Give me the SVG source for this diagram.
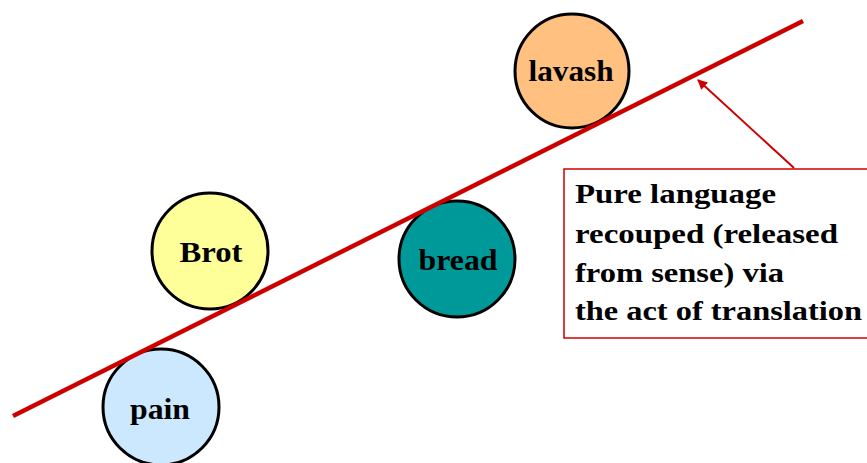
<svg xmlns="http://www.w3.org/2000/svg" width="867" height="463" viewBox="0 0 867 463">
<defs>
<style>
.node circle{stroke:#000;stroke-width:3}
.lbl{font-family:'Liberation Serif',serif;font-weight:700;font-size:29px;fill:#000;text-anchor:middle}
.note{font-family:'Liberation Serif',serif;font-weight:700;font-size:28px;fill:#000}
</style>
<marker id="ah" viewBox="0 0 10 10" refX="9" refY="5" markerWidth="14" markerHeight="10" orient="auto" markerUnits="userSpaceOnUse">
<path d="M0,0 L10,5 L0,10 z" fill="#cc0000"/>
</marker>
</defs>
<rect width="867" height="463" fill="#fff"/>
<g id="lavash" class="node"><circle cx="572" cy="71" r="57" fill="#ffc080"/><text class="lbl" x="571" y="81" textLength="85" lengthAdjust="spacingAndGlyphs">lavash</text></g>
<g id="brot" class="node"><circle cx="210" cy="251" r="58" fill="#ffff99"/><text class="lbl" x="211" y="262" textLength="63" lengthAdjust="spacingAndGlyphs">Brot</text></g>
<g id="bread" class="node"><circle cx="457" cy="259" r="58" fill="#009999"/><text class="lbl" x="458" y="270" textLength="79" lengthAdjust="spacingAndGlyphs">bread</text></g>
<g id="pain" class="node"><circle cx="161" cy="407" r="58" fill="#cce8ff"/><text class="lbl" x="160" y="419" textLength="60" lengthAdjust="spacingAndGlyphs">pain</text></g>
<g id="connectors">
<line x1="13" y1="416" x2="803" y2="21" stroke="#cc0000" stroke-width="4.5"/>
<line x1="794" y1="168" x2="698" y2="80" stroke="#cc0000" stroke-width="2" marker-end="url(#ah)"/>
</g>
<g id="note">
<rect x="564" y="169" width="310" height="169" fill="#fff" stroke="#cc0000" stroke-width="1.5"/>
<text class="note" x="575" y="203" textLength="201" lengthAdjust="spacingAndGlyphs">Pure language</text>
<text class="note" x="575" y="243" textLength="263" lengthAdjust="spacingAndGlyphs">recouped (released</text>
<text class="note" x="575" y="282" textLength="209" lengthAdjust="spacingAndGlyphs">from sense) via</text>
<text class="note" x="575" y="320" textLength="287" lengthAdjust="spacingAndGlyphs">the act of translation</text>
</g>
</svg>
